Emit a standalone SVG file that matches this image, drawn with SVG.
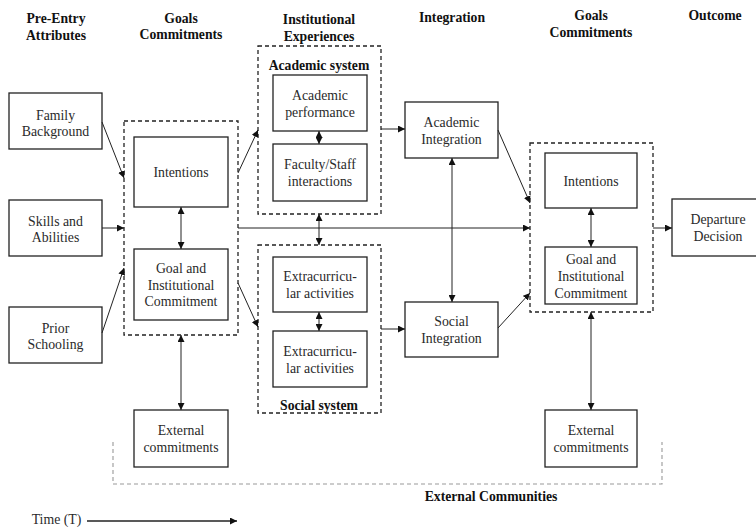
<svg xmlns="http://www.w3.org/2000/svg" width="756" height="527" viewBox="0 0 756 527">
<defs>
<marker id="ah" viewBox="0 0 10 10" refX="10" refY="5" markerWidth="7" markerHeight="7" markerUnits="userSpaceOnUse" orient="auto-start-reverse">
<path d="M0,0 L10,5 L0,10 z" fill="#111"/>
</marker>
<style>
.box{fill:#fff;stroke:#222;stroke-width:1.3}
.dash{fill:none;stroke:#222;stroke-width:1.3;stroke-dasharray:4,3}
.gdash{fill:none;stroke:#999;stroke-width:1.1;stroke-dasharray:4,3}
.t{font-family:"Liberation Serif","Times New Roman",serif;font-size:13.8px;fill:#2a2a2a;text-anchor:middle}
.h{font-family:"Liberation Serif","Times New Roman",serif;font-size:13.7px;font-weight:bold;fill:#111;text-anchor:middle}
.c{fill:none;stroke:#222;stroke-width:1}
.ce{fill:none;stroke:#222;stroke-width:1;marker-end:url(#ah)}
.cb{fill:none;stroke:#222;stroke-width:1;marker-start:url(#ah);marker-end:url(#ah)}
</style>
</defs>
<rect width="756" height="527" fill="#fff"/>

<g id="headers">
<text class="h" x="56" y="23">Pre-Entry</text>
<text class="h" x="56" y="40">Attributes</text>
<text class="h" x="181" y="23">Goals</text>
<text class="h" x="181" y="39">Commitments</text>
<text class="h" x="319" y="24">Institutional</text>
<text class="h" x="319" y="41">Experiences</text>
<text class="h" x="452" y="22">Integration</text>
<text class="h" x="591" y="20">Goals</text>
<text class="h" x="591" y="37">Commitments</text>
<text class="h" x="715" y="20">Outcome</text>
</g>

<g id="external-communities">
<path class="gdash" d="M113,442 V484 H662 V442"/>
<text class="h" x="491" y="501">External Communities</text>
</g>

<g id="goals-left">
<rect class="dash" x="124" y="121" width="114" height="214"/>
</g>
<g id="academic-system">
<rect class="dash" x="258" y="46" width="123" height="168"/>
<text class="h" x="319" y="70">Academic system</text>
</g>
<g id="social-system">
<rect class="dash" x="258" y="245" width="123" height="168"/>
<text class="h" x="319" y="410">Social system</text>
</g>
<g id="goals-right">
<rect class="dash" x="530" y="143" width="123" height="169"/>
</g>

<g id="family-background">
<rect class="box" x="9" y="93" width="93" height="56"/>
<text class="t" x="55.5" y="119.5">Family</text>
<text class="t" x="55.5" y="135.5">Background</text>
</g>
<g id="skills-abilities">
<rect class="box" x="9" y="200" width="93" height="56"/>
<text class="t" x="55.5" y="225.5">Skills and</text>
<text class="t" x="55.5" y="241.5">Abilities</text>
</g>
<g id="prior-schooling">
<rect class="box" x="9" y="307" width="93" height="56"/>
<text class="t" x="55.5" y="332.5">Prior</text>
<text class="t" x="55.5" y="348.5">Schooling</text>
</g>
<g id="intentions-left">
<rect class="box" x="134" y="137" width="94" height="70"/>
<text class="t" x="181" y="177">Intentions</text>
</g>
<g id="goal-commitment-left">
<rect class="box" x="134" y="249" width="94" height="71"/>
<text class="t" x="181" y="273">Goal and</text>
<text class="t" x="181" y="289.5">Institutional</text>
<text class="t" x="181" y="306">Commitment</text>
</g>
<g id="external-left">
<rect class="box" x="134" y="410" width="94" height="57"/>
<text class="t" x="181" y="435">External</text>
<text class="t" x="181" y="452">commitments</text>
</g>
<g id="academic-performance">
<rect class="box" x="273" y="75" width="94" height="56"/>
<text class="t" x="320" y="100">Academic</text>
<text class="t" x="320" y="116.5">performance</text>
</g>
<g id="faculty-staff">
<rect class="box" x="273" y="144" width="94" height="57"/>
<text class="t" x="320" y="169">Faculty/Staff</text>
<text class="t" x="320" y="186">interactions</text>
</g>
<g id="extracurricular-1">
<rect class="box" x="273" y="257" width="94" height="55"/>
<text class="t" x="320" y="281">Extracurricu-</text>
<text class="t" x="320" y="298">lar activities</text>
</g>
<g id="extracurricular-2">
<rect class="box" x="273" y="331" width="94" height="56"/>
<text class="t" x="320" y="356">Extracurricu-</text>
<text class="t" x="320" y="372.5">lar activities</text>
</g>
<g id="academic-integration">
<rect class="box" x="405" y="102" width="93" height="56"/>
<text class="t" x="451.5" y="127">Academic</text>
<text class="t" x="451.5" y="144">Integration</text>
</g>
<g id="social-integration">
<rect class="box" x="405" y="302" width="93" height="55"/>
<text class="t" x="451.5" y="326">Social</text>
<text class="t" x="451.5" y="343">Integration</text>
</g>
<g id="intentions-right">
<rect class="box" x="545" y="153" width="92" height="55"/>
<text class="t" x="591" y="186">Intentions</text>
</g>
<g id="goal-commitment-right">
<rect class="box" x="545" y="247" width="92" height="57"/>
<text class="t" x="591" y="264">Goal and</text>
<text class="t" x="591" y="281">Institutional</text>
<text class="t" x="591" y="298">Commitment</text>
</g>
<g id="external-right">
<rect class="box" x="545" y="410" width="92" height="57"/>
<text class="t" x="591" y="435">External</text>
<text class="t" x="591" y="452">commitments</text>
</g>
<g id="departure-decision">
<rect class="box" x="672" y="199" width="92" height="57"/>
<text class="t" x="718" y="224">Departure</text>
<text class="t" x="718" y="240.5">Decision</text>
</g>

<g id="time">
<text class="t" x="56.5" y="524">Time (T)</text>
<line class="ce" x1="87" y1="521" x2="237" y2="521" style="stroke-width:1.3"/>
</g>

<g id="connectors">
<line class="ce" x1="102" y1="122" x2="124" y2="178"/>
<line class="ce" x1="102" y1="228" x2="124" y2="228"/>
<line class="ce" x1="102" y1="333" x2="124" y2="268"/>
<line class="cb" x1="181" y1="207" x2="181" y2="249"/>
<line class="cb" x1="181" y1="335" x2="181" y2="410"/>
<line class="ce" x1="238" y1="173" x2="258" y2="130"/>
<line class="ce" x1="238" y1="283" x2="258" y2="327"/>
<line class="ce" x1="238" y1="228" x2="530" y2="228"/>
<line class="cb" x1="319" y1="131" x2="319" y2="144"/>
<line class="cb" x1="319" y1="214" x2="319" y2="245"/>
<line class="cb" x1="319" y1="312" x2="319" y2="331"/>
<line class="ce" x1="381" y1="129" x2="405" y2="129"/>
<line class="ce" x1="381" y1="329" x2="405" y2="329"/>
<line class="cb" x1="452" y1="158" x2="452" y2="302"/>
<line class="ce" x1="498" y1="130" x2="530" y2="203"/>
<line class="ce" x1="498" y1="328" x2="530" y2="293"/>
<line class="cb" x1="591" y1="208" x2="591" y2="247"/>
<line class="cb" x1="591" y1="312" x2="591" y2="410"/>
<line class="ce" x1="653" y1="228" x2="672" y2="228"/>
</g>
</svg>
